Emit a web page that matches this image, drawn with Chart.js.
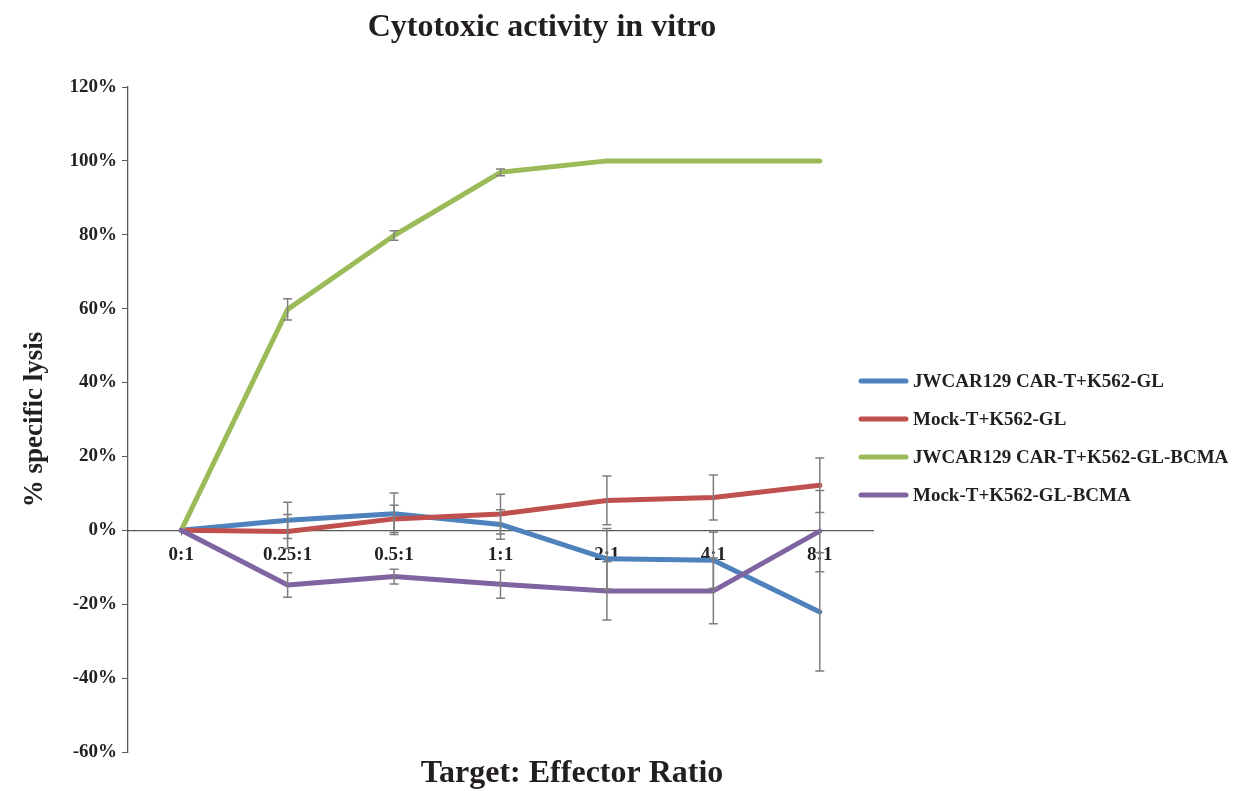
<!DOCTYPE html>
<html>
<head>
<meta charset="utf-8">
<title>Cytotoxic activity in vitro</title>
<script src="https://cdn.jsdelivr.net/npm/chart.js@4"></script>
<style>
  html, body { margin: 0; padding: 0; background: #ffffff; }
  #wrap { position: relative; width: 1234px; height: 791px; }
</style>
</head>
<body>
<div id="wrap"><canvas id="chart" width="1234" height="791"></canvas></div>
<script>
// Target:effector ratios on the x axis
const ratios = ['0:1', '0.25:1', '0.5:1', '1:1', '2:1', '4:1', '8:1'];

// Series names
const seriesNames = [
  'JWCAR129 CAR-T+K562-GL',
  'Mock-T+K562-GL',
  'JWCAR129 CAR-T+K562-GL-BCMA',
  'Mock-T+K562-GL-BCMA'
];

// Mean % specific lysis per ratio
const carGL      = [0, 2.7, 4.5, 1.6, -7.7, -8.1, -22.1];
const mockGL     = [0, -0.3, 3.1, 4.4, 8.1, 8.9, 12.2];
const carBCMA    = [0, 59.8, 79.8, 96.9, 100, 100, 100];
const mockBCMA   = [0, -14.8, -12.5, -14.6, -16.4, -16.4, -0.2];

// Standard deviation per ratio (± error bars)
const carGLErr    = [0, 4.9, 5.6, 4.0, 8.2, 7.6, 16.0];
const mockGLErr   = [0, 4.6, 3.7, 5.4, 6.6, 6.1, 7.4];
const carBCMAErr  = [0, 2.9, 1.3, 0.9, 0, 0, 0];
const mockBCMAErr = [0, 3.3, 2.0, 3.8, 7.9, 8.9, 11.0];

// Y axis tick range
const yMin = -60, yMax = 120, yStep = 20;

const seriesColors = ['#4F81BD', '#C0504D', '#9BBB59', '#8064A2'];
const serifBold = (size) => ({ family: "'Liberation Serif', 'Times New Roman', serif", size: size, weight: 'bold' });
const textColor = '#231f20';
const axisColor = '#5a5a5a';

// Draws the ± error bars from each dataset's errors array using the chart scales
const errorBarsPlugin = {
  id: 'errorBars',
  afterDatasetsDraw(chart) {
    const { ctx, scales: { x, y } } = chart;
    ctx.save();
    ctx.strokeStyle = '#7f7f7f';
    ctx.lineWidth = 1.5;
    chart.data.datasets.forEach((ds) => {
      ds.errors.forEach((err, i) => {
        if (!err) return;
        const v = ds.data[i];
        const px = x.getPixelForValue(i);
        const top = y.getPixelForValue(v + err);
        const bot = y.getPixelForValue(v - err);
        const cap = 4.5;
        ctx.beginPath();
        ctx.moveTo(px, top); ctx.lineTo(px, bot);
        ctx.moveTo(px - cap, top); ctx.lineTo(px + cap, top);
        ctx.moveTo(px - cap, bot); ctx.lineTo(px + cap, bot);
        ctx.stroke();
      });
    });
    ctx.restore();
  }
};

// Chart title, x axis title and the legend at the right
const labelsPlugin = {
  id: 'labels',
  afterDraw(chart, args, opts) {
    const { ctx } = chart;
    ctx.save();
    ctx.fillStyle = textColor;
    ctx.textBaseline = 'middle';
    ctx.textAlign = 'center';
    ctx.font = `bold ${opts.titleSize}px 'Liberation Serif', serif`;
    ctx.fillText(opts.title, opts.titleX, opts.titleY);
    ctx.font = `bold ${opts.xTitleSize}px 'Liberation Serif', serif`;
    ctx.fillText(opts.xTitle, opts.xTitleX, opts.xTitleY);

    ctx.textAlign = 'left';
    ctx.font = `bold ${opts.legendSize}px 'Liberation Serif', serif`;
    chart.data.datasets.forEach((ds, i) => {
      const ly = opts.legendY + i * opts.legendGap;
      ctx.strokeStyle = ds.borderColor;
      ctx.lineWidth = 5;
      ctx.lineCap = 'round';
      ctx.beginPath();
      ctx.moveTo(opts.legendX, ly);
      ctx.lineTo(opts.legendX + opts.legendLine, ly);
      ctx.stroke();
      ctx.fillText(ds.label, opts.legendX + opts.legendLine + 7, ly + 1);
    });
    ctx.restore();
  }
};

const seriesValues = [carGL, mockGL, carBCMA, mockBCMA];
const seriesErrors = [carGLErr, mockGLErr, carBCMAErr, mockBCMAErr];

const datasets = seriesNames.map((name, i) => ({
  label: name,
  data: seriesValues[i],
  errors: seriesErrors[i],
  borderColor: seriesColors[i],
  backgroundColor: seriesColors[i],
  borderWidth: 5,
  borderCapStyle: 'round',
  borderJoinStyle: 'round',
  pointRadius: 0,
  pointHoverRadius: 0,
  tension: 0,
  fill: false,
  order: 4 - i
}));

new Chart(document.getElementById('chart'), {
  type: 'line',
  data: { labels: ratios, datasets: datasets },
  plugins: [errorBarsPlugin, labelsPlugin],
  options: {
    responsive: false,
    animation: false,
    layout: { padding: { left: 0, right: 361, top: 87, bottom: 39 } },
    plugins: {
      legend: { display: false },
      title: { display: false },
      tooltip: { enabled: false },
      labels: {
        title: 'Cytotoxic activity in vitro', titleSize: 32, titleX: 542, titleY: 28,
        xTitle: 'Target: Effector Ratio', xTitleSize: 32, xTitleX: 572, xTitleY: 774,
        legendX: 861, legendY: 381, legendGap: 38, legendLine: 45, legendSize: 19
      }
    },
    scales: {
      x: {
        type: 'category',
        position: { y: 0 },
        offset: true,
        grid: { drawOnChartArea: false, drawTicks: true, tickLength: 4, color: axisColor },
        border: { color: axisColor, width: 1.3 },
        ticks: { color: textColor, font: serifBold(19), padding: 9, maxRotation: 0 }
      },
      y: {
        min: yMin, max: yMax,
        afterFit: (scale) => { scale.width = 128; },
        grid: { drawOnChartArea: false, drawTicks: true, tickLength: 6, color: axisColor },
        border: { color: axisColor, width: 1.3 },
        ticks: {
          stepSize: yStep, color: textColor, font: serifBold(19), padding: 5,
          callback: (v) => v + '%'
        },
        title: {
          display: true, text: '% specific lysis', color: textColor,
          font: serifBold(27), padding: { top: 19, bottom: 0 }
        }
      }
    }
  }
});
</script>
</body>
</html>
